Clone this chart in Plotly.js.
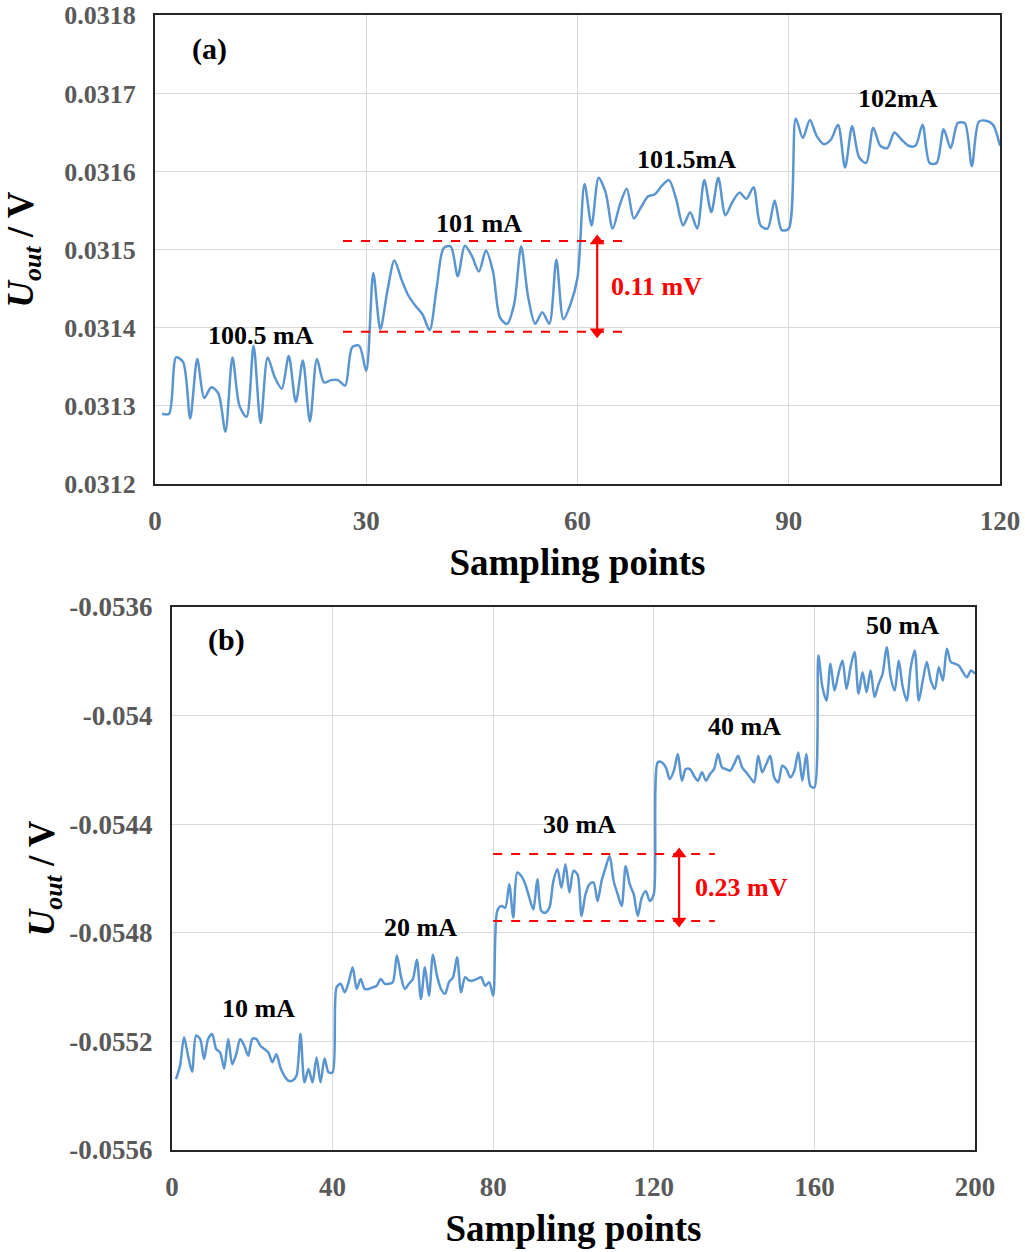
<!DOCTYPE html>
<html>
<head>
<meta charset="utf-8">
<script src="https://cdn.plot.ly/plotly-3.0.1.min.js"></script>
<style>
  html, body { margin: 0; padding: 0; background: #ffffff; }
  #chart { width: 1025px; height: 1252px; }
</style>
</head>
<body>
<div id="chart"></div>
<script>
// ---------- Panel (a) data ----------
const xA = Array.from({length: 120}, (_, i) => i + 1);
const uA = [
  0.03129, 0.03129, 0.031362, 0.031356, 0.031284, 0.03136, 0.03131, 0.031324, 0.031316, 0.031267,
  0.031362, 0.0313, 0.031286, 0.031377, 0.031278, 0.031362, 0.031337, 0.031322, 0.031364, 0.031305,
  0.031358, 0.03128, 0.03136, 0.03133, 0.031333, 0.031333, 0.031326, 0.031375, 0.031377, 0.031345,
  0.03147, 0.031398, 0.031447, 0.031486, 0.031462, 0.031441, 0.031428, 0.031417, 0.031397, 0.031451,
  0.031502, 0.031504, 0.031466, 0.031505, 0.031492, 0.031472, 0.031499, 0.031472, 0.031413, 0.031405,
  0.03143, 0.031504, 0.031439, 0.031405, 0.03142, 0.031405, 0.031487, 0.031411, 0.03143, 0.031464,
  0.031584, 0.031531, 0.031592, 0.031573, 0.031527, 0.031557, 0.031578, 0.03154, 0.031554, 0.031568,
  0.031571, 0.031582, 0.031589, 0.031565, 0.031531, 0.031548, 0.031527, 0.031589, 0.031548, 0.031592,
  0.031544, 0.031561, 0.031573, 0.031565, 0.03158, 0.031531, 0.031527, 0.031563, 0.031525, 0.031527,
  0.031668, 0.031643, 0.031666, 0.031645, 0.031635, 0.031641, 0.03166, 0.031605, 0.031658, 0.031618,
  0.031611, 0.031656, 0.031633, 0.03163, 0.03165, 0.031641, 0.031633, 0.031633, 0.03166, 0.031611,
  0.031611, 0.031654, 0.03163, 0.031662, 0.031662, 0.031607, 0.031664, 0.031665, 0.03166, 0.031633
];
const yTickValsA = [0.0312, 0.0313, 0.0314, 0.0315, 0.0316, 0.0317, 0.0318];
const yTickTextA = ['0.0312', '0.0313', '0.0314', '0.0315', '0.0316', '0.0317', '0.0318'];
const xTickValsA = [0, 30, 60, 90, 120];
const labelsA = ['100.5 mA', '101 mA', '101.5mA', '102mA'];
const labelPosA = [[15, 0.03139], [46, 0.031533], [75.5, 0.031616], [105.5, 0.031693]];
const bandA = [0.031511, 0.031395];   // dashed reference levels
const bandXA = [26.7, 67];
const arrowXA = 62.8;

// ---------- Panel (b) data ----------
const xB = Array.from({length: 200}, (_, i) => i + 1);
const uB = [
  -0.055339, -0.05529, -0.055185, -0.055253, -0.055312, -0.055179, -0.055191, -0.055265, -0.055191, -0.055173,
  -0.055228, -0.055241, -0.0553, -0.055191, -0.055284, -0.055247, -0.055191, -0.055216, -0.055253, -0.055191,
  -0.055191, -0.055216, -0.055228, -0.055241, -0.055277, -0.055247, -0.055296, -0.055327, -0.055345, -0.055345,
  -0.055327, -0.055173, -0.055351, -0.055302, -0.055351, -0.055259, -0.055351, -0.055263, -0.055314, -0.055314,
  -0.055001, -0.054988, -0.055019, -0.054982, -0.054927, -0.055007, -0.05497, -0.055007, -0.055007, -0.055001,
  -0.054995, -0.05497, -0.054988, -0.054988, -0.054982, -0.054884, -0.054958, -0.055007, -0.054988, -0.05497,
  -0.054899, -0.055044, -0.054927, -0.055032, -0.054881, -0.054958, -0.055007, -0.055025, -0.054982, -0.054964,
  -0.05489, -0.055019, -0.054964, -0.054976, -0.054976, -0.05497, -0.054964, -0.054995, -0.054982, -0.055032,
  -0.05472, -0.054701, -0.054708, -0.054621, -0.054744, -0.054578, -0.054591, -0.054621, -0.054671, -0.054714,
  -0.054603, -0.05472, -0.054726, -0.054708, -0.054609, -0.054566, -0.054634, -0.054548, -0.054652, -0.054572,
  -0.054585, -0.054738, -0.054658, -0.054621, -0.054615, -0.054683, -0.054609, -0.05456, -0.054517, -0.054609,
  -0.054658, -0.054701, -0.054554, -0.054621, -0.054658, -0.054738, -0.054671, -0.054646, -0.054683, -0.054658,
  -0.054172, -0.054172, -0.054191, -0.054234, -0.054203, -0.054142, -0.05424, -0.054197, -0.054197, -0.054222,
  -0.05424, -0.054209, -0.05424, -0.054215, -0.054197, -0.054142, -0.054191, -0.054197, -0.054203, -0.054179,
  -0.054148, -0.054191, -0.054209, -0.054228, -0.054246, -0.054148, -0.054209, -0.054179, -0.054148, -0.054228,
  -0.054246, -0.054185, -0.054197, -0.054228, -0.054203, -0.054136, -0.05424, -0.054142, -0.054259, -0.054265,
  -0.053779, -0.053895, -0.053945, -0.053809, -0.053908, -0.053846, -0.053797, -0.053902, -0.053822, -0.053766,
  -0.05392, -0.05384, -0.053914, -0.053834, -0.053932, -0.053883, -0.053846, -0.053748, -0.053859, -0.053908,
  -0.053797, -0.053895, -0.053945, -0.053822, -0.05376, -0.053945, -0.053871, -0.053803, -0.053871, -0.053902,
  -0.053822, -0.053871, -0.053754, -0.053803, -0.053809, -0.053816, -0.05384, -0.053859, -0.053834, -0.053846
];
const yTickValsB = [-0.0556, -0.0552, -0.0548, -0.0544, -0.054, -0.0536];
const yTickTextB = ['-0.0556', '-0.0552', '-0.0548', '-0.0544', '-0.054', '-0.0536'];
const xTickValsB = [0, 40, 80, 120, 160, 200];
const labelsB = ['10 mA', '20 mA', '30 mA', '40 mA', '50 mA'];
const labelPosB = [[21.5, -0.05508], [62, -0.05478], [101.5, -0.0544], [142.5, -0.05404], [182, -0.05367]];
const bandB = [-0.05451, -0.054757];
const bandXB = [80, 135.2];
const arrowXB = 126.3;

// ---------- Styling ----------
const SERIF = 'Liberation Serif, Times New Roman, serif';
const LINE_BLUE = '#5b95cf';
const RED = '#ff0000';

function axisCommon() {
  return {
    showline: true, mirror: true, linecolor: '#262626', linewidth: 2,
    showgrid: true, gridcolor: '#d9d9d9', gridwidth: 1,
    zeroline: false, ticks: '', ticklabeloverflow: 'allow',
    tickfont: {family: SERIF, size: 27, color: '#595959', weight: 'bold'}
  };
}

const lineStyle = {color: LINE_BLUE, width: 2.5, shape: 'spline', smoothing: 0.8};

const traces = [
  {x: xA, y: uA, xaxis: 'x', yaxis: 'y', type: 'scatter', mode: 'lines',
   line: lineStyle, showlegend: false, hoverinfo: 'skip'},
  {x: xB, y: uB, xaxis: 'x2', yaxis: 'y2', type: 'scatter', mode: 'lines',
   line: lineStyle, showlegend: false, hoverinfo: 'skip'},
  // double-headed red arrows (line + triangle heads)
  {x: [arrowXA, arrowXA], y: [bandA[0], bandA[1]], xaxis: 'x', yaxis: 'y', type: 'scatter', mode: 'lines+markers',
   line: {color: RED, width: 2.2}, marker: {symbol: ['triangle-up', 'triangle-down'], size: 13, color: RED},
   showlegend: false, hoverinfo: 'skip'},
  {x: [arrowXB, arrowXB], y: [bandB[0], bandB[1]], xaxis: 'x2', yaxis: 'y2', type: 'scatter', mode: 'lines+markers',
   line: {color: RED, width: 2.2}, marker: {symbol: ['triangle-up', 'triangle-down'], size: 13, color: RED},
   showlegend: false, hoverinfo: 'skip'}
];

const yTitleText = '<b><i>U</i><sub><i>out</i></sub> / V</b>';
const xTitleText = '<b>Sampling points</b>';

const yTickFontA = {family: SERIF, size: 26, color: '#595959', weight: 'bold'};

const layout = {
  width: 1025, height: 1252,
  margin: {l: 0, r: 0, t: 0, b: 0},
  paper_bgcolor: '#ffffff', plot_bgcolor: '#ffffff',
  font: {family: SERIF, color: '#000000'},
  xaxis: Object.assign(axisCommon(), {
    domain: [0.1512, 0.9756], range: [0, 120], tickvals: xTickValsA, anchor: 'y',
    ticklabelstandoff: 12,
    title: {text: xTitleText, font: {family: SERIF, size: 37, color: '#000'}, standoff: 14}
  }),
  yaxis: Object.assign(axisCommon(), {
    domain: [0.6134, 0.9878], range: [0.0312, 0.03180002], tickvals: yTickValsA, ticktext: yTickTextA, anchor: 'x',
    ticklabelstandoff: 12, tickfont: yTickFontA,
    title: {text: yTitleText, font: {family: SERIF, size: 37, color: '#000'}, standoff: 28}
  }),
  xaxis2: Object.assign(axisCommon(), {
    domain: [0.1678, 0.9512], range: [0, 200], tickvals: xTickValsB, anchor: 'y2',
    ticklabelstandoff: 12,
    title: {text: xTitleText, font: {family: SERIF, size: 37, color: '#000'}, standoff: 14}
  }),
  yaxis2: Object.assign(axisCommon(), {
    domain: [0.0815, 0.5152], range: [-0.0556, -0.05359998], tickvals: yTickValsB, ticktext: yTickTextB, anchor: 'x2',
    ticklabelstandoff: 12,
    title: {text: yTitleText, font: {family: SERIF, size: 37, color: '#000'}, standoff: 3}
  }),
  shapes: [],
  annotations: []
};

const lblFont = {family: SERIF, size: 26, color: '#000', weight: 'bold'};
const redFont = {family: SERIF, size: 26, color: RED, weight: 'bold'};

// panel labels
layout.annotations.push({xref: 'x', yref: 'y', x: 7.8, y: 0.031757, text: '<b>(a)</b>', showarrow: false, font: {family: SERIF, size: 30, color: '#000'}});
layout.annotations.push({xref: 'x2', yref: 'y2', x: 13.5, y: -0.053722, text: '<b>(b)</b>', showarrow: false, font: {family: SERIF, size: 30, color: '#000'}});

labelsA.forEach((t, i) => layout.annotations.push({xref: 'x', yref: 'y', x: labelPosA[i][0], y: labelPosA[i][1], text: '<b>' + t + '</b>', showarrow: false, font: lblFont}));
labelsB.forEach((t, i) => layout.annotations.push({xref: 'x2', yref: 'y2', x: labelPosB[i][0], y: labelPosB[i][1], text: '<b>' + t + '</b>', showarrow: false, font: lblFont}));

// dashed band lines
bandA.forEach(v => layout.shapes.push({type: 'line', xref: 'x', yref: 'y', x0: bandXA[0], x1: bandXA[1], y0: v, y1: v, line: {color: RED, width: 2, dash: 'dash'}}));
bandB.forEach(v => layout.shapes.push({type: 'line', xref: 'x2', yref: 'y2', x0: bandXB[0], x1: bandXB[1], y0: v, y1: v, line: {color: RED, width: 2, dash: 'dash'}}));

// magnitude labels
layout.annotations.push({xref: 'x', yref: 'y', x: 64.5, y: (bandA[0] + bandA[1]) / 2, xanchor: 'left', text: '<b>0.11 mV</b>', showarrow: false, font: redFont});
layout.annotations.push({xref: 'x2', yref: 'y2', x: 127.6, y: (bandB[0] + bandB[1]) / 2, xanchor: 'left', text: '<b>0.23 mV</b>', showarrow: false, font: redFont,
  bgcolor: '#ffffff', borderpad: 10});

Plotly.newPlot('chart', traces, layout, {staticPlot: true, displayModeBar: false});
</script>
</body>
</html>
